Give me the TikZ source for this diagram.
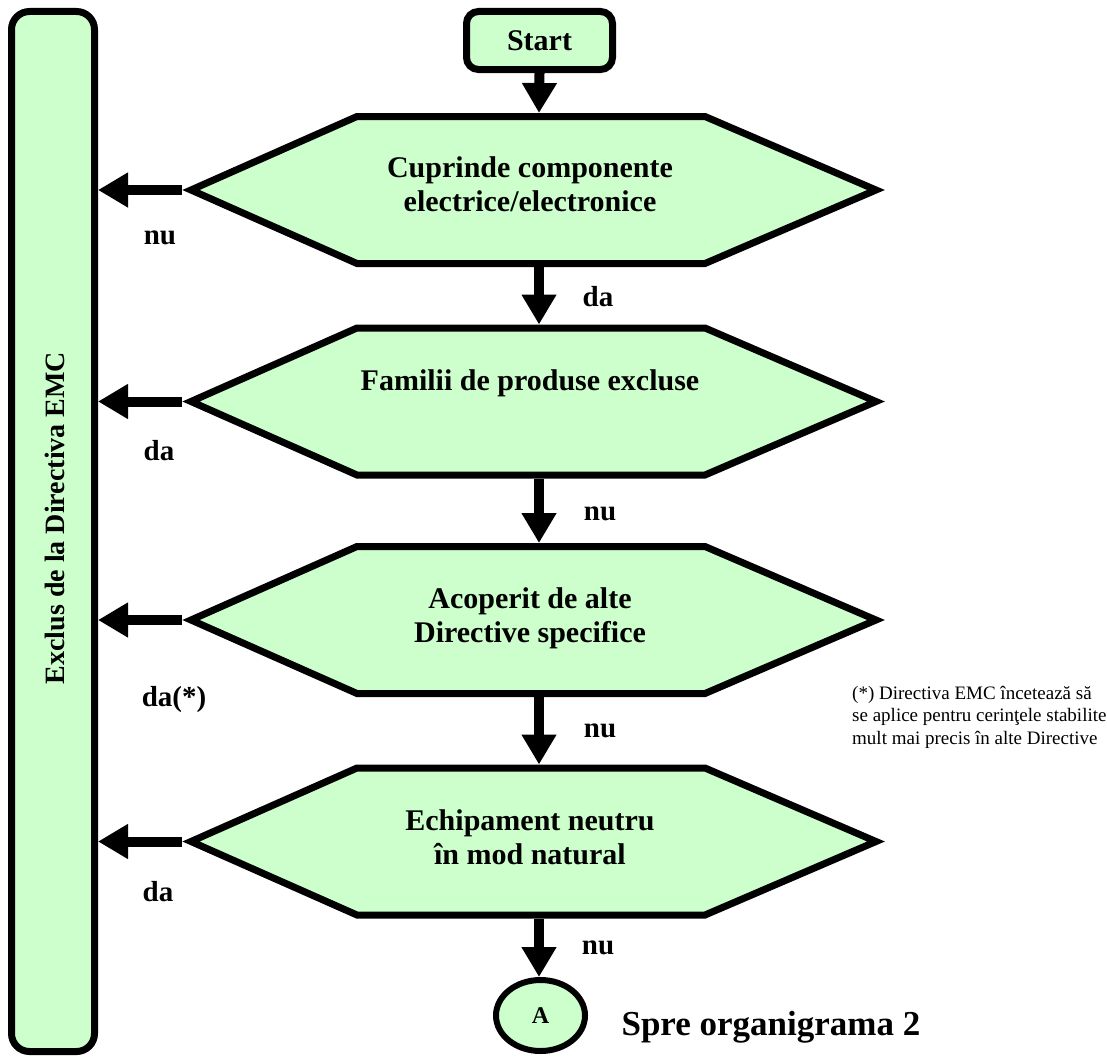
\documentclass[tikz,border=0pt]{standalone}
\usepackage{fontspec}
\setmainfont{Liberation Serif}
\usetikzlibrary{arrows.meta,shapes.geometric}
\definecolor{boxfill}{RGB}{204,255,204}

% one hexagonal decision box: name, centre x, centre y, text, text offset
\newcommand{\decision}[5]{%
  \begin{scope}[shift={(#2,#3)}]
    \draw[outline] (-341,0) -- (-175,-73.5) -- (173,-73.5) -- (344,0)
      -- (173,73.5) -- (-175,73.5) -- cycle;
    \node[hextext] (#1) at (-2,#5) {#4};
    \coordinate (#1-w) at (-350,0);
    \coordinate (#1-n) at (7,-77);
    \coordinate (#1-s) at (7,77);
  \end{scope}}

\begin{document}
\begin{tikzpicture}[x=1pt,y=-1pt,
  outline/.style={draw=black, line width=7pt, fill=boxfill, line join=miter},
  flow/.style={line width=10pt, -{Triangle[width=33pt,length=30pt]}},
  lbl/.style={font=\fontsize{29}{34}\selectfont\bfseries},
  hextext/.style={font=\fontsize{30}{34}\selectfont\bfseries, align=center},
]
\useasboundingbox (0,0) rectangle (1107,1057);

% exclusion bar on the left
\node[outline, rounded corners=18pt, minimum width=83pt, minimum height=1040pt,
      inner sep=0pt] (bar) at (53,531.5) {};
\node[rotate=90, font=\fontsize{28}{32}\selectfont\bfseries] (barlabel) at (55,518)
  {Exclus de la Directiva EMC};

% start
\node[outline, rounded corners=12pt, minimum width=146pt, minimum height=58pt,
      inner sep=0pt, font=\fontsize{30}{34}\selectfont\bfseries] (start) at (539.5,40.5) {Start};

% decisions
\decision{h1}{532}{190}{Cuprinde componente\\electrice/electronice}{-6}
\decision{h2}{532}{401.5}{Familii de produse excluse}{-18}
\decision{h3}{532}{620}{Acoperit de alte\\Directive specifice}{-2}
\decision{h4}{532}{841.5}{Echipament neutru\\în mod natural}{-4}

% connector A
\node[draw, line width=6pt, fill=boxfill, ellipse, minimum width=89pt, minimum height=71pt,
      inner sep=0pt, font=\fontsize{24}{28}\selectfont\bfseries] (A) at (540.5,1015.5) {A};
\node[anchor=base west, font=\fontsize{35}{40}\selectfont\bfseries] (spre) at (618,1035)
  {Spre organigrama 2};

% main flow
\draw[flow] (start.south) -- (h1-n);
\draw[flow] (h1-s) -- (h2-n);
\draw[flow] (h2-s) -- (h3-n);
\draw[flow] (h3-s) -- (h4-n);
\draw[flow] (h4-s) -- (h4-s |- A.north);

% exits to the exclusion bar
\draw[flow] (h1-w) -- (bar.east |- h1-w);
\draw[flow] (h2-w) -- (bar.east |- h2-w);
\draw[flow] (h3-w) -- (bar.east |- h3-w);
\draw[flow] (h4-w) -- (bar.east |- h4-w);

% answers
\node[lbl] (a1) at (598,297) {da};
\node[lbl] (a2) at (600,514) {nu};
\node[lbl] (a3) at (600,731) {nu};
\node[lbl] (a4) at (598,948) {nu};
\node[lbl] (b1) at (160,238) {nu};
\node[lbl] (b2) at (159,451) {da};
\node[lbl] (b3) at (174,700) {da(*)};
\node[lbl] (b4) at (158,892) {da};

% footnote
\node[anchor=north west, align=left, font=\fontsize{19}{22.5}\selectfont, inner sep=0pt]
  (note) at (852,686)
  {(*) Directiva EMC încetează să\\se aplice pentru cerinţele stabilite\\mult mai precis în alte Directive};
\end{tikzpicture}
\end{document}
